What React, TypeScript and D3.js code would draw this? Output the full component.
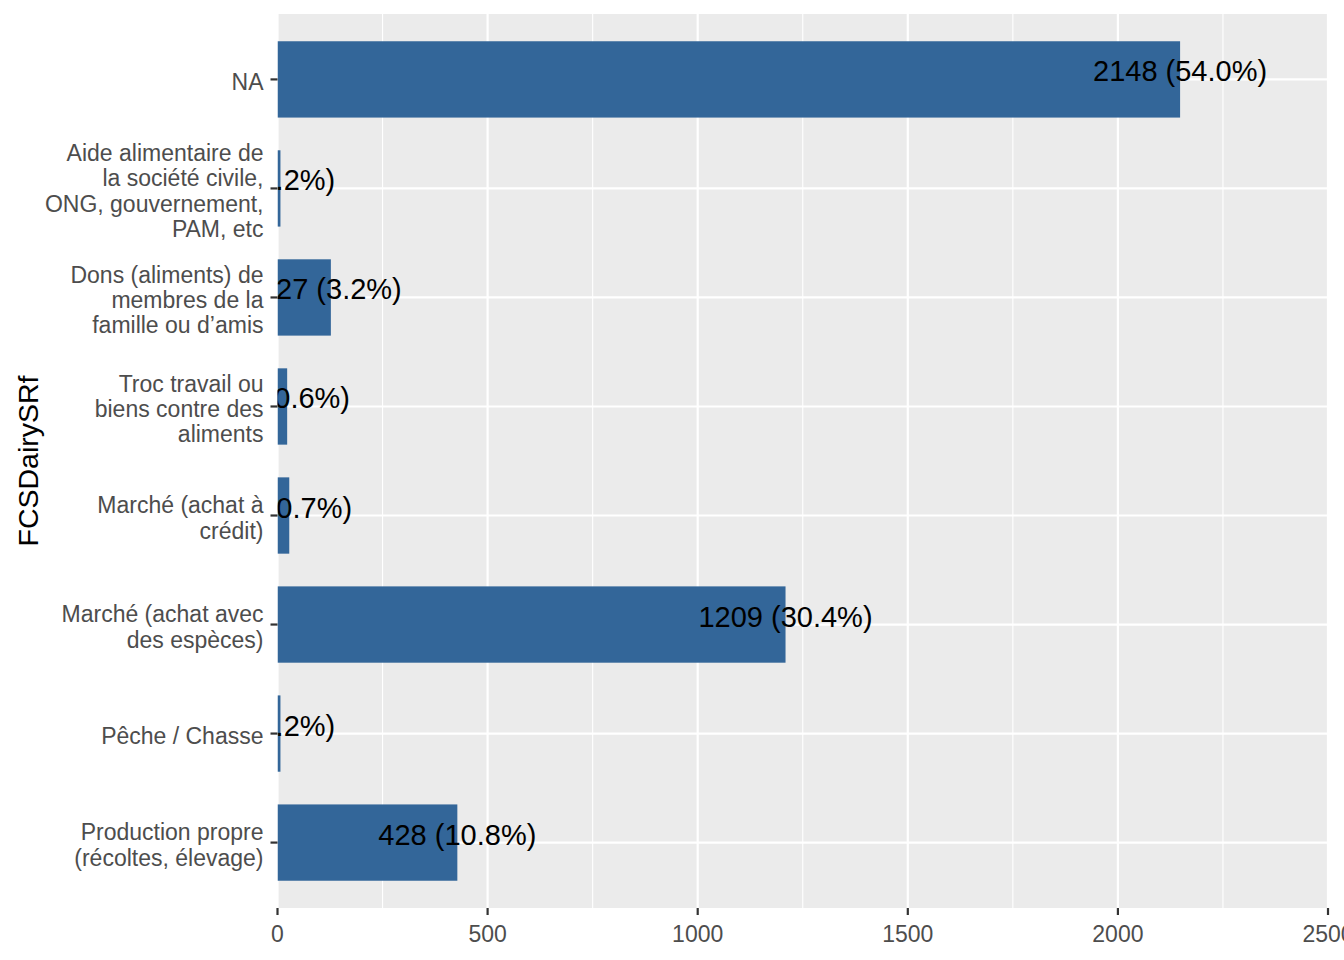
import * as d3 from "d3";

// categories top to bottom, with wrapped tick labels
const categories = [
  "NA",
  "Aide alimentaire de la société civile, ONG, gouvernement, PAM, etc",
  "Dons (aliments) de membres de la famille ou d’amis",
  "Troc travail ou biens contre des aliments",
  "Marché (achat à crédit)",
  "Marché (achat avec des espèces)",
  "Pêche / Chasse",
  "Production propre (récoltes, élevage)",
];
const tickLines = [
  ["NA"],
  ["Aide alimentaire de", "la société civile,", "ONG, gouvernement,", "PAM, etc"],
  ["Dons (aliments) de", "membres de la", "famille ou d’amis"],
  ["Troc travail ou", "biens contre des", "aliments"],
  ["Marché (achat à", "crédit)"],
  ["Marché (achat avec", "des espèces)"],
  ["Pêche / Chasse"],
  ["Production propre", "(récoltes, élevage)"],
];
const counts = [2148, 7, 127, 23, 28, 1209, 7, 428];
const xTicks = [0, 500, 1000, 1500, 2000, 2500];
const xMinor = [250, 750, 1250, 1750, 2250];

const W = 1344;
const H = 960;
const m = { left: 277.5, right: 1328, top: 14, bottom: 908 };
const FONT = "'Liberation Sans', Arial, sans-serif";

export default function App() {
  const total = d3.sum(counts);
  const x = d3.scaleLinear().domain([0, 2500]).range([m.left, m.right]);
  const y = d3
    .scaleBand<string>()
    .domain(categories)
    .range([m.top, m.bottom])
    .paddingInner(0.3)
    .paddingOuter(0.25);
  const bw = y.bandwidth();
  const cy = (c: string) => (y(c) ?? 0) + bw / 2;

  return (
    <div style={{ position: "absolute", left: 0, top: 0 }}>
      <svg width={W} height={H} style={{ display: "block", background: "#fff" }}>
        <defs>
          <clipPath id="panel">
            <rect x={m.left} y={m.top} width={m.right - m.left} height={m.bottom - m.top} />
          </clipPath>
        </defs>
        <rect x={m.left} y={m.top} width={m.right - m.left} height={m.bottom - m.top} fill="#EBEBEB" />
        {xMinor.map((v) => (
          <line key={"mn" + v} x1={x(v)} x2={x(v)} y1={m.top} y2={m.bottom} stroke="#fff" strokeWidth={1.1} />
        ))}
        {xTicks.map((v) => (
          <line key={"mj" + v} x1={x(v)} x2={x(v)} y1={m.top} y2={m.bottom} stroke="#fff" strokeWidth={2.2} />
        ))}
        {categories.map((c) => (
          <line key={"hg" + c} x1={m.left} x2={m.right} y1={cy(c)} y2={cy(c)} stroke="#fff" strokeWidth={2.2} />
        ))}
        <g clipPath="url(#panel)">
          {categories.map((c, i) => (
            <rect key={"b" + c} x={x(0)} y={y(c)} width={x(counts[i]) - x(0)} height={bw} fill="#336699" />
          ))}
          {categories.map((c, i) => (
            <text
              key={"l" + c}
              x={x(counts[i])}
              y={cy(c) - 8}
              textAnchor="middle"
              dominantBaseline="central"
              fontFamily={FONT}
              fontSize={29}
              fill="#000"
            >
              {`${counts[i]} (${((counts[i] / total) * 100).toFixed(1)}%)`}
            </text>
          ))}
        </g>
        {/* y axis */}
        {categories.map((c, i) => {
          const lines = tickLines[i];
          const lh = 25.3;
          const start = cy(c) + 2.5 - ((lines.length - 1) * lh) / 2;
          return (
            <g key={"yt" + c}>
              <line x1={m.left - 7} x2={m.left} y1={cy(c)} y2={cy(c)} stroke="#333" strokeWidth={2.2} />
              <text textAnchor="end" fontFamily={FONT} fontSize={23} fill="#4D4D4D">
                {lines.map((t, k) => (
                  <tspan key={k} x={m.left - 14} y={start + k * lh} dominantBaseline="central">
                    {t}
                  </tspan>
                ))}
              </text>
            </g>
          );
        })}
        {/* x axis */}
        {xTicks.map((v) => (
          <g key={"xt" + v}>
            <line x1={x(v)} x2={x(v)} y1={m.bottom} y2={m.bottom + 7} stroke="#333" strokeWidth={2.2} />
            <text
              x={x(v)}
              y={m.bottom + 26}
              textAnchor="middle"
              dominantBaseline="central"
              fontFamily={FONT}
              fontSize={23}
              fill="#4D4D4D"
            >
              {v}
            </text>
          </g>
        ))}
        <text
          transform={`translate(28,${(m.top + m.bottom) / 2}) rotate(-90)`}
          textAnchor="middle"
          dominantBaseline="central"
          fontFamily={FONT}
          fontSize={28.5}
          fill="#000"
        >
          FCSDairySRf
        </text>
      </svg>
    </div>
  );
}
